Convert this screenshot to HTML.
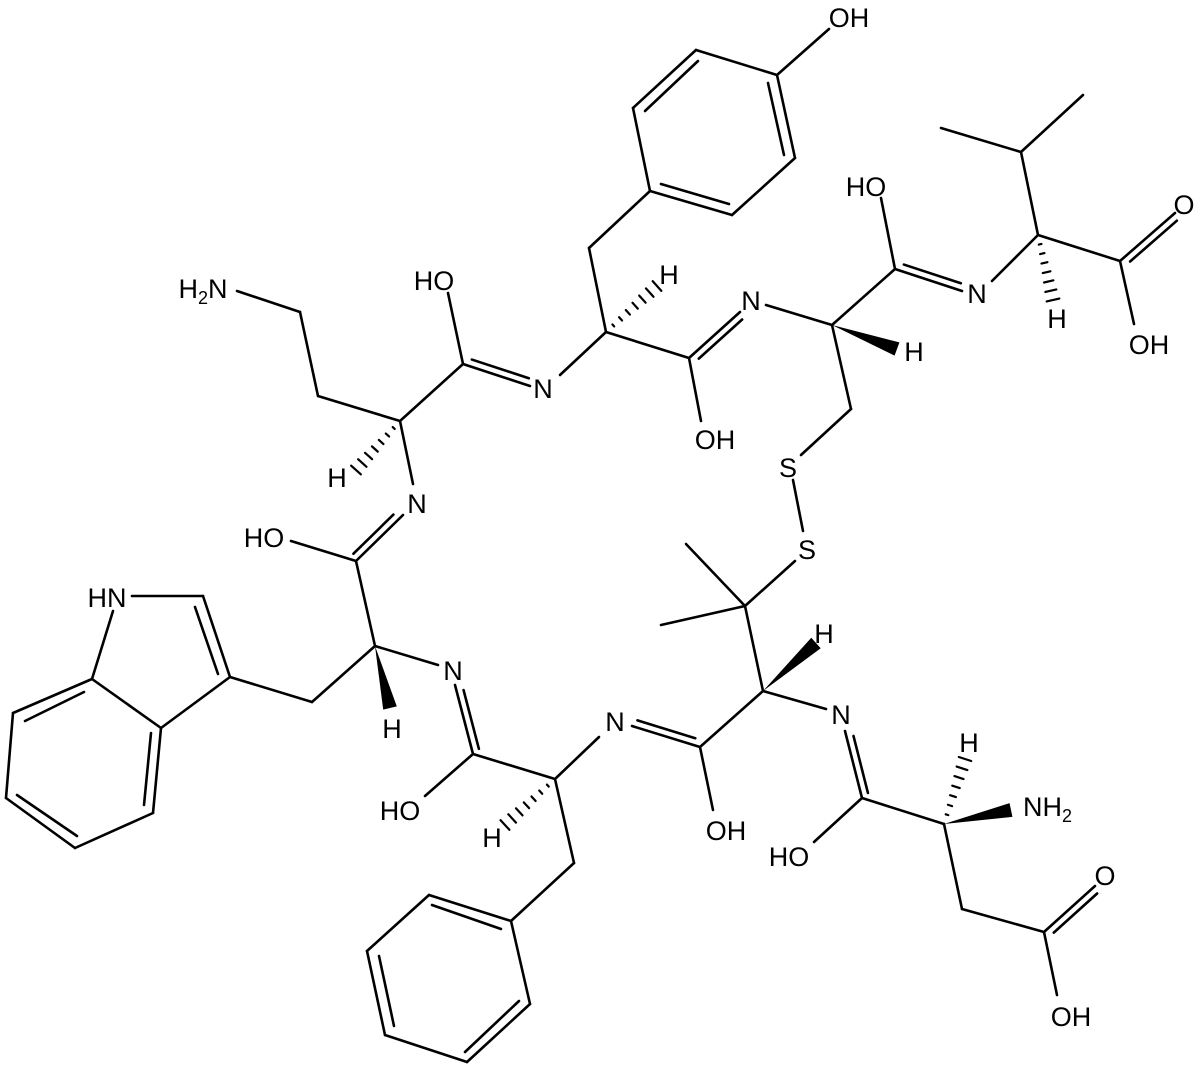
<!DOCTYPE html>
<html><head><meta charset="utf-8"><style>
html,body{margin:0;padding:0;background:#fff}
svg{display:block}
text{font-family:"Liberation Sans",Arial,sans-serif;font-size:27px;fill:#000;text-anchor:middle}
</style></head><body>
<svg id="s" width="1200" height="1068" viewBox="0 0 1200 1068" xmlns="http://www.w3.org/2000/svg">
<g id="b" stroke="#000" stroke-width="2.6" stroke-linecap="round" fill="none"></g>
<g id="w" fill="#000"></g>
<g>
<text x="203" y="298">H<tspan font-size="18" dy="6">2</tspan><tspan dy="-6">N</tspan></text>
<text x="434" y="290">HO</text>
<text x="543" y="398">N</text>
<text x="337" y="487">H</text>
<text x="417" y="513">N</text>
<text x="264" y="547">HO</text>
<text x="849" y="27">OH</text>
<text x="669" y="284">H</text>
<text x="751" y="310">N</text>
<text x="715" y="449">OH</text>
<text x="866" y="196">HO</text>
<text x="977" y="303">N</text>
<text x="914" y="361">H</text>
<text x="1057" y="328">H</text>
<text x="1184" y="214">O</text>
<text x="1149" y="354">OH</text>
<text x="788" y="477">S</text>
<text x="807" y="559">S</text>
<text x="824" y="643">H</text>
<text x="615" y="731">N</text>
<text x="726" y="840">OH</text>
<text x="841" y="724">N</text>
<text x="969" y="752">H</text>
<text style="text-anchor:start" x="1023" y="816">NH<tspan font-size="18" dy="6">2</tspan></text>
<text x="789" y="866">HO</text>
<text x="1105" y="885">O</text>
<text x="1071" y="1026">OH</text>
<text x="107" y="607">HN</text>
<text x="392" y="738">H</text>
<text x="453" y="680">N</text>
<text x="400" y="820">HO</text>
<text x="492" y="847">H</text>
</g>
</svg>
<script>
var B=document.getElementById('b'),W=document.getElementById('w'),NS='http://www.w3.org/2000/svg';
function L(a,b,c,d){var l=document.createElementNS(NS,'line');l.setAttribute('x1',a);l.setAttribute('y1',b);l.setAttribute('x2',c);l.setAttribute('y2',d);B.appendChild(l);}
function D(a,b,c,d,s){L(a,b,c,d);var dx=c-a,dy=d-b,n=Math.hypot(dx,dy),ox=-dy/n*7*s,oy=dx/n*7*s;L(a+ox+dx*0.1,b+oy+dy*0.1,c+ox-dx*0.05,d+oy-dy*0.05);}
function H(a,b,c,d){var dx=c-a,dy=d-b,n=Math.hypot(dx,dy),px=-dy/n,py=dx/n;for(var i=1;i<=7;i++){var t=i/7,x=a+dx*t,y=b+dy*t,h=0.5+6*t;var l=document.createElementNS(NS,'line');l.setAttribute('x1',x-px*h);l.setAttribute('y1',y-py*h);l.setAttribute('x2',x+px*h);l.setAttribute('y2',y+py*h);l.setAttribute('stroke-width','2.2');B.appendChild(l);}}
function Wd(a,b,c,d){var dx=c-a,dy=d-b,n=Math.hypot(dx,dy),px=-dy/n*7,py=dx/n*7;var p=document.createElementNS(NS,'polygon');p.setAttribute('points',a+','+b+' '+(c+px)+','+(d+py)+' '+(c-px)+','+(d-py));W.appendChild(p);}
var S=[[237,291,300,312],[300,312,318,396],[318,396,400,421],[400,421,463,364],[448,293,463,364],[400,421,413,484],
[560,375,606,332],[606,332,589,248],[589,248,650,191],[606,332,689,358],[689,358,701,421],[766,305,832,325],[832,325,895,269],[895,269,881,198],
[992,281,1038,235],[1038,235,1021,152],[1021,152,941,128],[1021,152,1083,95],[1038,235,1120,261],[1120,261,1134,324],
[832,325,851,409],[851,409,801,455],[793,480,803,531],[795,561,745,606],[745,606,686,544],[745,606,661,625],[745,606,763,691],[763,691,700,747],[700,747,713,810],[763,691,826,709],
[862,798,814,842],[862,798,944,824],[944,824,962,909],[962,909,1044,932],[1044,932,1057,995],
[291,541,356,561],[356,561,375,646],[375,646,312,702],[312,702,230,677],[375,646,438,665],[473,754,425,796],[473,754,555,779],[555,779,599,737],[555,779,574,863],[574,863,511,921],
[829,29,777,75],
[777,75,696,50],[696,50,633,108],[633,108,650,191],[650,191,732,215],[732,215,795,158],[795,158,777,75],
[132,596,203,596],[203,596,230,677],[230,677,161,728],[161,728,92,679],[92,679,113,611],[92,679,13,713],[13,713,6,798],[6,798,75,848],[75,848,153,813],[153,813,161,728],
[511,921,429,895],[429,895,367,951],[367,951,385,1035],[385,1035,467,1062],[467,1062,530,1004],[530,1004,511,921],
[645,111,698,61],[661,184,729,204],[768,83,784,155],[195,607,218,674],[25,721,84,692],[17,795,77,836],[144,805,151,733],[432,905,501,929],[379,956,394,1026],[465,1052,519,1001]];
S.forEach(function(s){L(s[0],s[1],s[2],s[3]);});
D(463,364,530,386,-1);D(689,358,740,312,1);D(895,269,962,291,-1);D(1120,261,1175,213,1);D(700,747,632,726,1);D(845,731,862,798,-1);D(1044,932,1095,886,1);D(403,515,356,561,1);D(455,685,473,754,-1);
H(400,421,356,470);H(606,332,657,286);H(1038,235,1053,300);H(555,779,505,825);H(944,824,965,759);
Wd(832,325,897,349);Wd(375,646,390,708);Wd(763,691,816,643);Wd(944,824,1011,810);
</script>
</body></html>
